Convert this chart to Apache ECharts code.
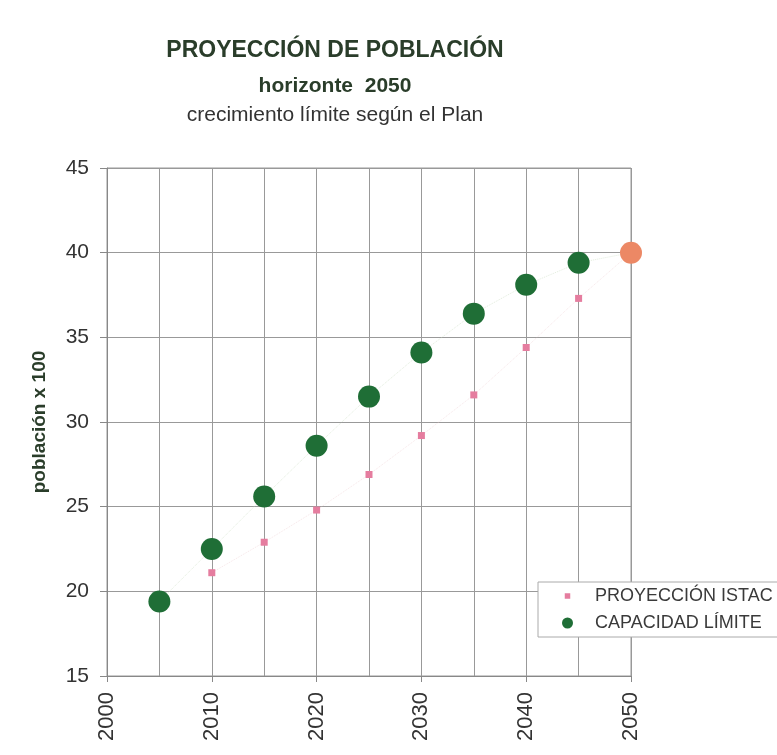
<!DOCTYPE html>
<html>
<head>
<meta charset="utf-8">
<script src="https://cdn.jsdelivr.net/npm/echarts@6/dist/echarts.min.js"></script>
<style>
    html, body { margin: 0; padding: 0; background: #fff; }
    #chart { width: 777px; height: 755px; }
</style>
</head>
<body>
<div id="chart"></div>
<script>
    // datos
    const capacidadYears = [2005, 2010, 2015, 2020, 2025, 2030, 2035, 2040, 2045, 2050]
    const capacidad = [19.4, 22.5, 25.6, 28.6, 31.5, 34.1, 36.4, 38.1, 39.4, 40.0]
    const istacYears = [2010, 2015, 2020, 2025, 2030, 2035, 2040, 2045, 2050]
    const istac = [21.1, 22.9, 24.8, 26.9, 29.2, 31.6, 34.4, 37.3, 40.0]
    const yTicks = [15, 20, 25, 30, 35, 40, 45]
    const xTicks = [2000, 2010, 2020, 2030, 2040, 2050]

    const font = 'Liberation Sans'
    const green = '#1f6e36'
    const pink = '#e57d9f'
    const salmon = '#ec8865'
    const titleColor = '#2a3d2a'

    let chart = echarts.init(document.getElementById('chart'))

    const istacData = istacYears.map((y, i) => [y, istac[i]])
    const capacidadData = capacidadYears.map((y, i) => {
        // el último punto (2050) coincide en ambas series y aparece en salmón
        if (y === 2050) return { value: [y, capacidad[i]], itemStyle: { color: salmon } }
        return [y, capacidad[i]]
    })

    chart.setOption({
        animation: false,
        title: [
            {
                text: 'PROYECCIÓN DE POBLACIÓN',
                left: 330, top: 34, textAlign: 'center',
                textStyle: { fontFamily: font, fontSize: 23, fontWeight: 'bold', color: titleColor }
            },
            {
                text: 'horizonte  2050',
                left: 330, top: 71, textAlign: 'center',
                textStyle: { fontFamily: font, fontSize: 21, fontWeight: 'bold', color: titleColor }
            },
            {
                text: 'crecimiento límite según el Plan',
                left: 330, top: 100, textAlign: 'center',
                textStyle: { fontFamily: font, fontSize: 21, fontWeight: 'normal', color: '#333' }
            }
        ],
        legend: {
            orient: 'vertical',
            left: 538, top: 582,
            itemWidth: 11, itemHeight: 11,
            itemGap: 9,
            padding: [5, 40, 5, 24],
            borderColor: '#aaa', borderWidth: 1,
            backgroundColor: '#fff',
            textStyle: { fontFamily: font, fontSize: 18, color: '#3a3a3a', padding: [0, 0, 0, 17] },
            data: [
                { name: 'PROYECCIÓN ISTAC', icon: 'path://M0,0L0,0M12,12L12,12M3,3h6v6h-6z', itemStyle: { color: pink } },
                { name: 'CAPACIDAD LÍMITE', icon: 'circle', itemStyle: { color: green } }
            ]
        },
        grid: {
            left: 107, right: 146, top: 168, bottom: 79,
            show: true, borderColor: '#999', borderWidth: 1
        },
        xAxis: {
            type: 'value',
            min: xTicks[0], max: xTicks[xTicks.length - 1], interval: 10,
            axisLine: { show: true, lineStyle: { color: '#888' } },
            axisTick: { show: true, length: 6, lineStyle: { color: '#888' } },
            minorTick: { show: false, splitNumber: 2 },
            minorSplitLine: { show: true, lineStyle: { color: '#999', width: 1 } },
            splitLine: { show: true, lineStyle: { color: '#999', width: 1 } },
            axisLabel: {
                rotate: 90, margin: 16,
                fontFamily: font, fontSize: 22, color: '#333',
                formatter: v => String(v)
            }
        },
        yAxis: {
            type: 'value',
            min: yTicks[0], max: yTicks[yTicks.length - 1], interval: 5,
            name: 'población x 100',
            nameLocation: 'middle', nameRotate: 90, nameGap: 58,
            nameTextStyle: { fontFamily: font, fontSize: 19, fontWeight: 'bold', color: titleColor },
            axisLine: { show: true, lineStyle: { color: '#888' } },
            axisTick: { show: true, length: 7, lineStyle: { color: '#888' } },
            splitLine: { show: true, lineStyle: { color: '#999', width: 1 } },
            axisLabel: { margin: 18, fontFamily: font, fontSize: 21, color: '#333' }
        },
        series: [
            {
                name: 'PROYECCIÓN ISTAC',
                type: 'line',
                data: istacData,
                symbol: 'rect', symbolSize: 7,
                itemStyle: { color: pink },
                lineStyle: { color: 'rgba(235, 200, 205, 0.45)', width: 1, type: 'dotted' },
                z: 3
            },
            {
                name: 'CAPACIDAD LÍMITE',
                type: 'line',
                data: capacidadData,
                symbol: 'circle', symbolSize: 22,
                itemStyle: { color: green },
                lineStyle: { color: 'rgba(200, 220, 190, 0.5)', width: 1, type: 'dotted' },
                z: 4
            }
        ]
    })
</script>
</body>
</html>
